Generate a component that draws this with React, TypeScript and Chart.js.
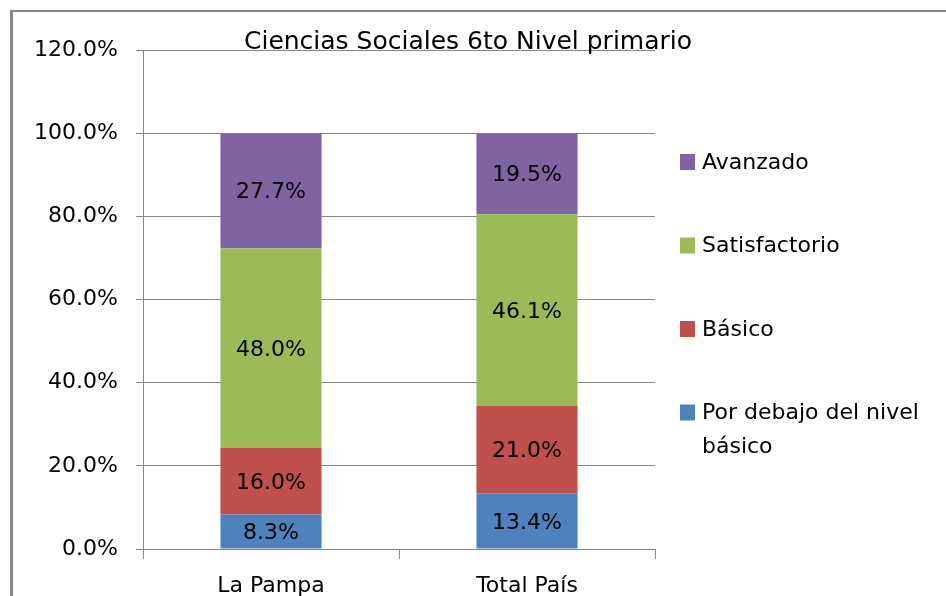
import React, { useEffect, useRef } from "react";
import { Chart, registerables } from "chart.js";

Chart.register(...registerables);

const categories = ["La Pampa", "Total País"];
const seriesNames = ["Por debajo del nivel básico", "Básico", "Satisfactorio", "Avanzado"];
const legendLines = [["Por debajo del nivel", "básico"], ["Básico"], ["Satisfactorio"], ["Avanzado"]];
const porDebajo = [8.3, 13.4];
const basico = [16.0, 21.0];
const satisfactorio = [48.0, 46.1];
const avanzado = [27.7, 19.5];
const seriesColors = ["#4F81BD", "#C0504D", "#9BBB59", "#8064A2"];
const titleText = "Ciencias Sociales 6to Nivel primario";
const yMax = 120;
const yStep = 20;

const FONT = "'DejaVu Sans', sans-serif";
const GRID = "#868686";

const framePlugin = {
  id: "frame",
  beforeDraw(chart: any) {
    const ctx = chart.ctx;
    ctx.save();
    ctx.fillStyle = "#ffffff";
    ctx.fillRect(0, 0, chart.width, chart.height);
    ctx.fillStyle = GRID;
    ctx.fillRect(10, 10, 3, chart.height - 10);
    ctx.fillRect(10, 10, chart.width - 10, 2);
    ctx.restore();
  },
};

const labelsPlugin = {
  id: "segLabels",
  afterDatasetsDraw(chart: any) {
    const ctx = chart.ctx;
    ctx.save();
    ctx.font = `22px ${FONT}`;
    ctx.fillStyle = "#000000";
    ctx.textAlign = "center";
    ctx.textBaseline = "middle";
    chart.data.datasets.forEach((ds: any, di: number) => {
      const meta = chart.getDatasetMeta(di);
      meta.data.forEach((el: any, i: number) => {
        const p = el.getProps(["x", "y", "base"], true);
        const v = ds.data[i];
        ctx.fillText(v.toFixed(1) + "%", p.x, (p.y + p.base) / 2 + 2);
      });
    });
    ctx.restore();
  },
};

const titleLegendPlugin = {
  id: "titleLegend",
  afterDraw(chart: any) {
    const ctx = chart.ctx;
    const area = chart.chartArea;
    ctx.save();
    ctx.fillStyle = "#000000";
    ctx.font = `25px ${FONT}`;
    ctx.textAlign = "center";
    ctx.textBaseline = "alphabetic";
    ctx.fillText(titleText, 468, 49);

    ctx.font = `22px ${FONT}`;
    ctx.textAlign = "left";
    ctx.textBaseline = "middle";
    const n = chart.data.datasets.length;
    const startY = 162;
    const gap = 83.5;
    for (let k = 0; k < n; k++) {
      const di = n - 1 - k;
      const ds = chart.data.datasets[di];
      const cy = startY + gap * k;
      ctx.fillStyle = ds.backgroundColor;
      ctx.fillRect(area.right + 25, cy - 8, 15, 16);
      ctx.fillStyle = "#000000";
      const lines = legendLines[di];
      lines.forEach((ln: string, li: number) => {
        ctx.fillText(ln, area.right + 47, cy + 1 + li * 34);
      });
    }
    ctx.restore();
  },
};

export default function App() {
  const ref = useRef<HTMLCanvasElement | null>(null);
  useEffect(() => {
    document.body.style.margin = "0";
    const canvas = ref.current;
    if (!canvas) return;
    const data = [porDebajo, basico, satisfactorio, avanzado];
    const chart = new Chart(canvas, {
      type: "bar",
      data: {
        labels: categories,
        datasets: data.map((d, i) => ({
          label: seriesNames[i],
          data: d,
          backgroundColor: seriesColors[i],
          borderWidth: 0,
          barPercentage: 0.395,
          categoryPercentage: 1,
        })),
      },
      options: {
        animation: false,
        responsive: false,
        devicePixelRatio: 1,
        layout: { padding: { left: 0, right: 291, top: 50, bottom: 0 } },
        plugins: {
          legend: { display: false },
          title: { display: false },
          tooltip: { enabled: false },
        },
        scales: {
          x: {
            stacked: true,
            offset: true,
            grid: {
              offset: true,
              drawOnChartArea: false,
              drawTicks: true,
              tickLength: 10,
              color: GRID,
              lineWidth: 1,
            },
            border: { display: true, color: GRID, width: 1 },
            ticks: {
              color: "#000000",
              font: { family: FONT, size: 22 },
              padding: 14,
            },
            afterFit(axis: any) {
              axis.height = 47;
            },
          },
          y: {
            stacked: true,
            min: 0,
            max: yMax,
            grid: {
              color: GRID,
              lineWidth: 1,
              drawTicks: true,
              tickLength: 7,
            },
            border: { display: true, color: GRID, width: 1 },
            ticks: {
              stepSize: yStep,
              color: "#000000",
              font: { family: FONT, size: 22 },
              padding: 18,
              callback: (v: any) => Number(v).toFixed(1) + "%",
            },
            afterFit(axis: any) {
              axis.width = 143;
            },
          },
        },
      },
      plugins: [framePlugin, labelsPlugin, titleLegendPlugin],
    });
    return () => chart.destroy();
  }, []);
  return <canvas ref={ref} width={946} height={596} style={{ display: "block" }} />;
}
